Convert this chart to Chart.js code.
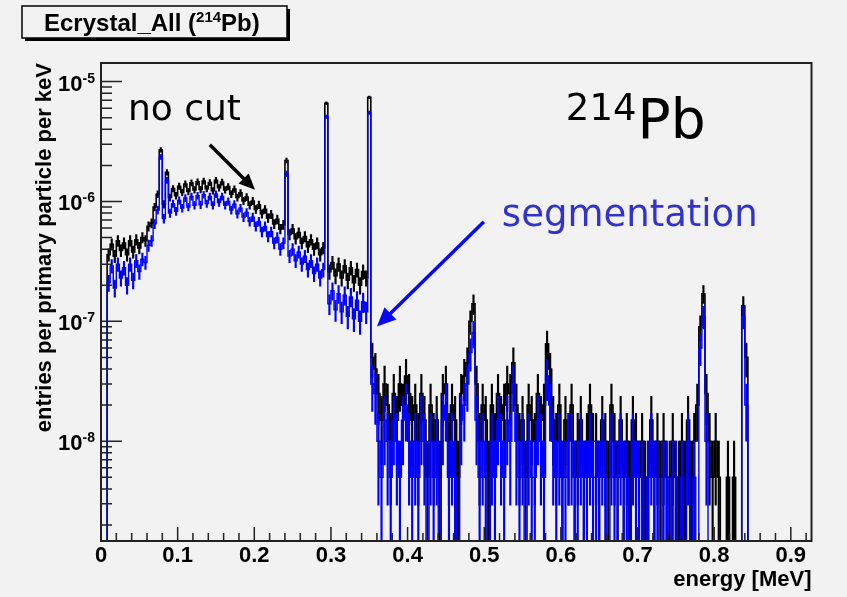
<!DOCTYPE html>
<html>
<head>
<meta charset="utf-8">
<title>Ecrystal_All (214Pb)</title>
<script src="https://cdn.jsdelivr.net/npm/chart.js@4/dist/chart.umd.min.js"></script>
<style>
  html, body { margin: 0; padding: 0; background: #f2f2f2; }
  canvas { display: block; }
</style>
</head>
<body>
<canvas id="spectrum" width="847" height="597"></canvas>
<script>
// histogram: 4 keV bins starting at 0 MeV, contents in units of 1e-9 entries / primary / keV
const BIN_WIDTH = 0.004;      // MeV
const VALUE_UNIT = 1e-9;
const COUNT_UNIT = 5;         // one entry, in VALUE_UNIT (used for the Poisson error bars)
const X_MAX = 0.927;
const Y_MIN = 1.47e-9;
const Y_MAX = 1.43e-5;

const noCut = [
  0, 0, 360, 440, 350, 470, 390, 450, 360, 470,
  380, 480, 410, 500, 470, 620, 660, 900, 1150, 2700,
  950, 1750, 1080, 1280, 1120, 1340, 1190, 1400, 1210, 1430,
  1250, 1460, 1260, 1480, 1280, 1440, 1230, 1500, 1300, 1450,
  1250, 1330, 1150, 1270, 1080, 1180, 1010, 1090, 930, 1010,
  860, 940, 790, 860, 730, 780, 650, 710, 590, 640,
  2200, 530, 590, 490, 550, 450, 510, 420, 480, 400,
  450, 360, 410, 6600, 260, 310, 240, 300, 230, 290,
  220, 280, 210, 270, 200, 260, 230, 7400, 50, 40,
  25, 15, 30, 20, 10, 25, 15, 30, 20, 35,
  25, 15, 20, 10, 25, 15, 5, 20, 10, 15,
  5, 25, 30, 10, 20, 15, 5, 25, 35, 45,
  100, 140, 30, 10, 20, 15, 5, 20, 10, 25,
  15, 20, 30, 25, 45, 20, 10, 15, 5, 20,
  15, 10, 25, 15, 20, 65, 40, 15, 10, 20,
  5, 15, 10, 20, 5, 10, 15, 5, 10, 20,
  10, 10, 5, 15, 10, 5, 20, 10, 5, 15,
  5, 10, 5, 15, 10, 5, 10, 5, 5, 15,
  5, 10, 5, 10, 5, 5, 10, 5, 5, 10,
  5, 15, 5, 10, 20, 90, 170, 25, 10, 5,
  10, 5, 0, 0, 5, 0, 5, 0, 0, 135,
  50, 0, 0, 0, 0, 0, 0, 0, 0, 0,
  0, 0, 0, 0, 0, 0, 0, 0, 0, 0,
  0, 0
];

const segmentation = [
  0, 0, 210, 290, 190, 300, 230, 280, 200, 300,
  220, 320, 260, 330, 310, 430, 470, 650, 850, 2350,
  720, 1500, 800, 960, 830, 1020, 880, 1070, 900, 1100,
  930, 1120, 940, 1140, 960, 1100, 930, 1150, 980, 1100,
  930, 1000, 850, 950, 790, 880, 740, 810, 680, 740,
  620, 680, 560, 620, 510, 560, 450, 500, 400, 450,
  1700, 350, 400, 320, 380, 300, 350, 270, 320, 250,
  300, 230, 270, 5100, 140, 180, 125, 170, 120, 165,
  110, 160, 105, 150, 100, 145, 120, 5500, 30, 25,
  10, 5, 15, 10, 5, 15, 10, 5, 15, 20,
  10, 5, 10, 5, 15, 10, 0, 10, 5, 10,
  0, 15, 20, 5, 10, 5, 0, 15, 20, 30,
  55, 80, 15, 5, 10, 5, 0, 10, 5, 15,
  10, 5, 15, 10, 30, 10, 5, 10, 0, 10,
  5, 5, 15, 10, 5, 35, 20, 10, 5, 10,
  5, 5, 10, 10, 5, 5, 10, 5, 5, 10,
  5, 5, 5, 10, 5, 0, 10, 5, 5, 10,
  5, 5, 0, 10, 5, 5, 5, 0, 5, 10,
  5, 5, 0, 5, 5, 0, 5, 5, 0, 5,
  0, 10, 0, 5, 0, 60, 110, 10, 0, 0,
  0, 0, 0, 0, 0, 0, 0, 0, 0, 110,
  20, 0, 0, 0, 0, 0, 0, 0, 0, 0,
  0, 0, 0, 0, 0, 0, 0, 0, 0, 0,
  0, 0
];

const binCenters = noCut.map((_, i) => (i + 0.5) * BIN_WIDTH);

// histogram outline, empty bins sit on the bottom of the frame
function stepPoints(values) {
  return values.map((v, i) => ({ x: binCenters[i], y: v > 0 ? v * VALUE_UNIT : Y_MIN }));
}

// vertical error bars as floating bars
function errorBars(values) {
  const out = [];
  values.forEach((v, i) => {
    if (v <= 0) return;
    const err = Math.sqrt(v * COUNT_UNIT);
    out.push({ x: binCenters[i], y: [Math.max((v - err) * VALUE_UNIT, Y_MIN), (v + err) * VALUE_UNIT] });
  });
  return out;
}

const ROOT_FONT = '"Liberation Sans", Arial, Helvetica, sans-serif';
const HAND_FONT = '"Comic Sans MS", "DejaVu Sans", sans-serif';

function arrow(ctx, x1, y1, x2, y2, color, head) {
  const ang = Math.atan2(y2 - y1, x2 - x1);
  ctx.strokeStyle = color;
  ctx.fillStyle = color;
  ctx.lineWidth = 3.5;
  ctx.beginPath();
  ctx.moveTo(x1, y1);
  ctx.lineTo(x2 - Math.cos(ang) * head * 0.8, y2 - Math.sin(ang) * head * 0.8);
  ctx.stroke();
  ctx.beginPath();
  ctx.moveTo(x2, y2);
  ctx.lineTo(x2 - head * Math.cos(ang) + head * 0.45 * Math.sin(ang), y2 - head * Math.sin(ang) - head * 0.45 * Math.cos(ang));
  ctx.lineTo(x2 - head * Math.cos(ang) - head * 0.45 * Math.sin(ang), y2 - head * Math.sin(ang) + head * 0.45 * Math.cos(ang));
  ctx.closePath();
  ctx.fill();
}

const rootStyle = {
  id: 'rootStyle',
  beforeDraw(chart) {
    const { ctx, width, height } = chart;
    ctx.save();
    ctx.fillStyle = '#f2f2f2';
    ctx.fillRect(0, 0, width, height);
    ctx.restore();
  },
  afterDraw(chart) {
    const { ctx, chartArea: a, scales: { x, y } } = chart;
    ctx.save();

    // frame + inward ticks
    ctx.strokeStyle = '#222';
    ctx.lineWidth = 2;
    ctx.strokeRect(a.left, a.top, a.right - a.left, a.bottom - a.top);
    ctx.lineWidth = 1.5;
    ctx.beginPath();
    for (let i = 0; i * 0.02 <= x.max; i++) {
      const px = x.getPixelForValue(i * 0.02);
      ctx.moveTo(px, a.bottom);
      ctx.lineTo(px, a.bottom - (i % 5 === 0 ? 14 : 8));
    }
    for (let d = -9; d <= -5; d++) {
      for (let k = 1; k <= 9; k++) {
        const v = k * Math.pow(10, d);
        if (v < y.min || v > y.max) continue;
        const py = y.getPixelForValue(v);
        ctx.moveTo(a.left, py);
        ctx.lineTo(a.left + (k === 1 ? 21 : 11), py);
      }
    }
    ctx.stroke();

    // y labels 10^d
    ctx.fillStyle = '#000';
    ctx.textAlign = 'right';
    ctx.textBaseline = 'alphabetic';
    for (let d = -8; d <= -5; d++) {
      const py = y.getPixelForValue(Math.pow(10, d));
      ctx.font = 'bold 14px ' + ROOT_FONT;
      const ex = String(d);
      const w = ctx.measureText(ex).width;
      ctx.fillText(ex, a.left - 6, py + 1);
      ctx.font = 'bold 22px ' + ROOT_FONT;
      ctx.fillText('10', a.left - 6 - w, py + 9);
    }

    // title box
    ctx.fillStyle = '#000';
    ctx.fillRect(25, 9, 265, 32);
    ctx.fillStyle = '#f2f2f2';
    ctx.fillRect(22, 6, 265, 32);
    ctx.strokeStyle = '#000';
    ctx.lineWidth = 1.5;
    ctx.strokeRect(22, 6, 265, 32);
    ctx.fillStyle = '#000';
    ctx.textAlign = 'left';
    let tx = 44;
    ctx.font = 'bold 24px ' + ROOT_FONT;
    ctx.fillText('Ecrystal_All (', tx, 31);
    tx += ctx.measureText('Ecrystal_All (').width;
    ctx.font = 'bold 15px ' + ROOT_FONT;
    ctx.fillText('214', tx, 22);
    tx += ctx.measureText('214').width;
    ctx.font = 'bold 24px ' + ROOT_FONT;
    ctx.fillText('Pb)', tx, 31);

    // annotations, placed in data coordinates
    const px = e => x.getPixelForValue(e);
    const py = v => y.getPixelForValue(v);
    ctx.font = '36px ' + HAND_FONT;
    ctx.fillStyle = '#000';
    ctx.fillText('no cut', px(0.0352), py(4.79e-6));
    arrow(ctx, px(0.142), py(2.97e-6), px(0.2009), py(1.252e-6), '#000', 16);

    ctx.font = '37px ' + HAND_FONT;
    ctx.fillText('214', px(0.6065), py(4.79e-6));
    const w214 = ctx.measureText('214').width;
    ctx.font = '55px ' + HAND_FONT;
    ctx.fillText('Pb', px(0.6065) + w214 + 1, py(3.38e-6));

    ctx.font = '37px ' + HAND_FONT;
    ctx.fillStyle = '#3333cc';
    ctx.fillText('segmentation', px(0.523), py(6.27e-7));
    arrow(ctx, px(0.4995), py(6.76e-7), px(0.36), py(9.04e-8), '#0a0af0', 19);

    ctx.restore();
  }
};

new Chart(document.getElementById('spectrum'), {
  type: 'bar',
  data: {
    datasets: [
      { type: 'bar', label: 'segmentation', data: errorBars(segmentation), backgroundColor: '#0000ff',
        borderWidth: 0, barThickness: 1.5, grouped: false },
      { type: 'line', label: 'segmentation', data: stepPoints(segmentation), borderColor: '#0000ff',
        borderWidth: 1.4, stepped: 'middle', pointRadius: 0, fill: false },
      { type: 'bar', label: 'no cut', data: errorBars(noCut), backgroundColor: '#000',
        borderWidth: 0, barThickness: 1.5, grouped: false },
      { type: 'line', label: 'no cut', data: stepPoints(noCut), borderColor: '#000',
        borderWidth: 1.6, stepped: 'middle', pointRadius: 0, fill: false }
    ]
  },
  options: {
    responsive: false,
    animation: false,
    devicePixelRatio: 1,
    layout: { padding: { top: 63, right: 35.5, left: 0, bottom: 0 } },
    plugins: { legend: { display: false }, tooltip: { enabled: false } },
    scales: {
      x: {
        type: 'linear', min: 0, max: X_MAX, offset: false,
        grid: { display: false, drawTicks: false },
        border: { display: false },
        ticks: {
          stepSize: 0.1, includeBounds: false, autoSkip: false, maxRotation: 0, padding: 2,
          color: '#000', font: { family: ROOT_FONT, weight: 'bold', size: 22 },
          callback: v => String(Math.round(v * 10) / 10)
        },
        title: {
          display: true, text: 'energy [MeV]', align: 'end', color: '#000',
          font: { family: ROOT_FONT, weight: 'bold', size: 22 }, padding: { top: 0, bottom: 4 }
        },
        afterFit(s) { s.height = 56; }
      },
      y: {
        type: 'logarithmic', min: Y_MIN, max: Y_MAX,
        grid: { display: false, drawTicks: false },
        border: { display: false },
        ticks: { display: false },
        title: {
          display: true, text: 'entries per primary particle per keV', align: 'end', color: '#000',
          font: { family: ROOT_FONT, weight: 'bold', size: 22 }, padding: { top: 32, bottom: 0 }
        },
        afterFit(s) { s.width = 101; }
      }
    }
  },
  plugins: [rootStyle]
});
</script>
</body>
</html>
